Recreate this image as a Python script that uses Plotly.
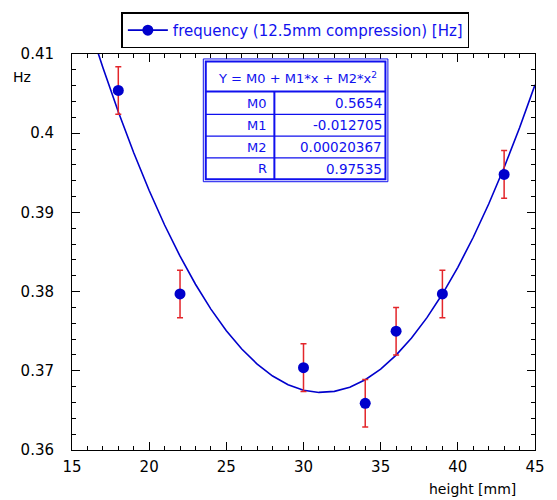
import plotly.graph_objects as go

height_mm = [18, 22, 30, 34, 36, 39, 43]
freq_hz = [0.4054, 0.3797, 0.3704, 0.3659, 0.3750, 0.3797, 0.3948]
freq_err = [0.003, 0.003, 0.003, 0.003, 0.003, 0.003, 0.003]

# fitted curve samples (Y = M0 + M1*x + M2*x^2, values as drawn)
fit_x = [15, 16, 17, 18, 19, 20, 21, 22, 23, 24, 25, 26, 27, 28, 29, 30,
         31, 32, 33, 34, 35, 36, 37, 38, 39, 40, 41, 42, 43, 44, 45]
fit_y = [0.42065, 0.41426, 0.40828, 0.40270, 0.39753, 0.39277, 0.38841,
         0.38447, 0.38093, 0.37779, 0.37507, 0.37275, 0.37084, 0.36934,
         0.36824, 0.36755, 0.36727, 0.36740, 0.36793, 0.36887, 0.37022,
         0.37198, 0.37414, 0.37671, 0.37969, 0.38307, 0.38686, 0.39106,
         0.39567, 0.40069, 0.40611]

# fit table
table_title = "Y = M0 + M1*x + M2*x<sup>2</sup>"
param_names = ["M0", "M1", "M2", "R"]
param_values = ["0.5654", "-0.012705", "0.00020367", "0.97535"]

legend_name = "frequency (12.5mm compression) [Hz]"
x_title = "height [mm]"
y_title = "Hz"

W, H = 557, 500
L, R, T, B = 72, 16, 50, 50
PW, PH = W - L - R, H - T - B


def px(x):
    return (x - L) / PW


def py(y):
    return (H - B - y) / PH


BLUE = "#0000CC"
TBLUE = "#1010EE"
RED = "#E3262B"
FONT = "DejaVu Sans"

fig = go.Figure()

fig.add_trace(go.Scatter(
    x=fit_x, y=fit_y, mode="lines",
    line=dict(color=BLUE, width=1.6), showlegend=False, hoverinfo="skip"))

fig.add_trace(go.Scatter(
    x=height_mm, y=freq_hz, mode="markers",
    marker=dict(color=BLUE, size=11),
    error_y=dict(type="data", array=freq_err, color=RED, thickness=1.5, width=3),
    showlegend=False))

fig.add_trace(go.Scatter(
    x=[None], y=[None], mode="lines+markers", name=legend_name,
    line=dict(color=BLUE, width=1.6), marker=dict(color=BLUE, size=11)))

shapes = []
# legend shadow
shapes.append(dict(type="rect", xref="paper", yref="paper",
                   x0=px(126), x1=px(472), y0=py(41), y1=py(12),
                   fillcolor="black", line=dict(width=0), layer="below"))

# table: white fill + double border
shapes.append(dict(type="rect", xref="paper", yref="paper",
                   x0=px(205), x1=px(392), y0=py(179), y1=py(55),
                   fillcolor="white", line=dict(color=TBLUE, width=1)))
shapes.append(dict(type="rect", xref="paper", yref="paper",
                   x0=px(207.5), x1=px(389.5), y0=py(176.5), y1=py(57.5),
                   line=dict(color=TBLUE, width=2)))
shapes.append(dict(type="line", xref="paper", yref="paper",
                   x0=px(207.5), x1=px(389.5), y0=py(88), y1=py(88),
                   line=dict(color=TBLUE, width=2)))
for ry in [111, 133, 155]:
    shapes.append(dict(type="line", xref="paper", yref="paper",
                       x0=px(207.5), x1=px(389.5), y0=py(ry), y1=py(ry),
                       line=dict(color=TBLUE, width=1.3)))
shapes.append(dict(type="line", xref="paper", yref="paper",
                   x0=px(277), x1=px(277), y0=py(88), y1=py(176.5),
                   line=dict(color=TBLUE, width=2)))

annotations = []
annotations.append(dict(text=table_title, xref="paper", yref="paper",
                        x=px(300), y=py(74), xanchor="center", yanchor="middle",
                        showarrow=False, font=dict(family=FONT, size=13, color=TBLUE)))
row_centers = [99.5, 122, 144, 166]
for name, val, cy in zip(param_names, param_values, row_centers):
    annotations.append(dict(text=name, xref="paper", yref="paper",
                            x=px(272), y=py(cy), xanchor="right", yanchor="middle",
                            showarrow=False, font=dict(family=FONT, size=13, color=TBLUE)))
    annotations.append(dict(text=val, xref="paper", yref="paper",
                            x=px(388), y=py(cy), xanchor="right", yanchor="middle",
                            showarrow=False, font=dict(family=FONT, size=13.5, color=TBLUE)))

annotations.append(dict(text=y_title, xref="paper", yref="paper",
                        x=px(21), y=py(73), xanchor="center", yanchor="middle",
                        showarrow=False, font=dict(family=FONT, size=14, color="black")))
annotations.append(dict(text=x_title, xref="paper", yref="paper",
                        x=px(523), y=py(489), xanchor="right", yanchor="middle",
                        showarrow=False, borderpad=0,
                        font=dict(family=FONT, size=14, color="black")))

axis_common = dict(
    showline=True, linecolor="black", linewidth=1, mirror="ticks",
    ticks="inside", ticklen=8, tickwidth=1, tickcolor="black",
    showgrid=False, zeroline=False,
    tickfont=dict(family=FONT, size=15, color="black"),
)

fig.update_layout(
    width=W, height=H,
    margin=dict(l=L, r=R, t=T, b=B),
    paper_bgcolor="white", plot_bgcolor="white",
    xaxis=dict(range=[15, 45], tick0=15, dtick=5,
               minor=dict(ticks="inside", ticklen=4, dtick=1, tickcolor="black", showgrid=False),
               ticklabelstandoff=3, **axis_common),
    yaxis=dict(range=[0.36, 0.41], tick0=0.36, dtick=0.01,
               minor=dict(ticks="inside", ticklen=4, dtick=0.002, tickcolor="black", showgrid=False),
               ticklabelstandoff=14, **axis_common),
    showlegend=True,
    legend=dict(x=px(122), y=py(8), xanchor="left", yanchor="top",
                bgcolor="white", bordercolor="black", borderwidth=1.5,
                font=dict(family=FONT, size=15, color=TBLUE),
                itemwidth=40, tracegroupgap=0),
    shapes=shapes,
    annotations=annotations,
)

fig.write_html("out.html", config={"displayModeBar": False},
               post_script="document.body.style.margin='0';")
